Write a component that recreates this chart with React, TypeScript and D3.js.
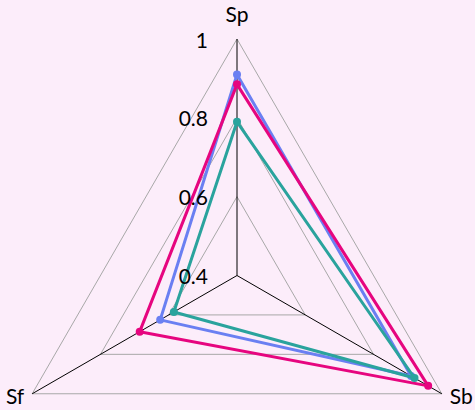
import React from "react";
import * as d3 from "d3";

const axes = ["Sp", "Sb", "Sf"];
const ticks = [0.4, 0.6, 0.8, 1];
const gridLevels = [0.6, 0.8, 1];
const seriesNames = ["Blue", "Magenta", "Teal"];
const blueValues = [0.91, 0.91, 0.625];
const magentaValues = [0.885, 0.96, 0.685];
const tealValues = [0.79, 0.92, 0.585];
const colors = ["#6a7ff2", "#e6057f", "#2aa39d"];

const W = 475;
const H = 410;
const cx = 237;
const cy = 275.5;
const R = 236.5;

export default function App() {
  const r = d3.scaleLinear().domain([0.4, 1]).range([0, R]);
  const angle = (i: number) => -Math.PI / 2 + (i * 2 * Math.PI) / axes.length;
  const pt = (i: number, v: number): [number, number] => [
    cx + r(v) * Math.cos(angle(i)),
    cy + r(v) * Math.sin(angle(i)),
  ];
  const line = d3.line<[number, number]>().curve(d3.curveLinearClosed);
  const all = [blueValues, magentaValues, tealValues];
  const font = "Lato, 'Noto Sans', sans-serif";

  return (
    <svg
      width={W}
      height={H}
      style={{ position: "absolute", left: 0, top: 0 }}
      fontFamily={font}
    >
      <rect x={0} y={0} width={W} height={H} fill="#fcedfa" />
      {gridLevels.map((g) => (
        <path
          key={g}
          d={line(axes.map((_, i) => pt(i, g))) || ""}
          fill="none"
          stroke="#a8a8a8"
          strokeWidth={1}
        />
      ))}
      {axes.map((a, i) => {
        const [x, y] = pt(i, 1);
        return <line key={a} x1={cx} y1={cy} x2={x} y2={y} stroke="#000" strokeWidth={1} />;
      })}
      {all.map((vals, s) => (
        <g key={seriesNames[s]}>
          <path
            d={line(vals.map((v, i) => pt(i, v))) || ""}
            fill="none"
            stroke={colors[s]}
            strokeWidth={3}
            strokeLinejoin="round"
          />
          {vals.map((v, i) => {
            const [x, y] = pt(i, v);
            return <circle key={i} cx={x} cy={y} r={4} fill={colors[s]} />;
          })}
        </g>
      ))}
      {ticks.map((t) => (
        <text
          key={t}
          x={cx - 29}
          y={cy - r(t)}
          textAnchor="end"
          dominantBaseline="central"
          fontSize={21}
          fill="#000"
        >
          {String(t)}
        </text>
      ))}
      {axes.map((a, i) => {
        const [x, y] = pt(i, 1);
        if (i === 0) {
          return (
            <text key={a} x={x} y={y - 17} textAnchor="middle" fontSize={21} fill="#000">
              {a}
            </text>
          );
        }
        const right = Math.cos(angle(i)) > 0;
        return (
          <text
            key={a}
            x={right ? x + 8 : x - 8}
            y={y + 2}
            textAnchor={right ? "start" : "end"}
            dominantBaseline="central"
            fontSize={21}
            fill="#000"
          >
            {a}
          </text>
        );
      })}
    </svg>
  );
}
